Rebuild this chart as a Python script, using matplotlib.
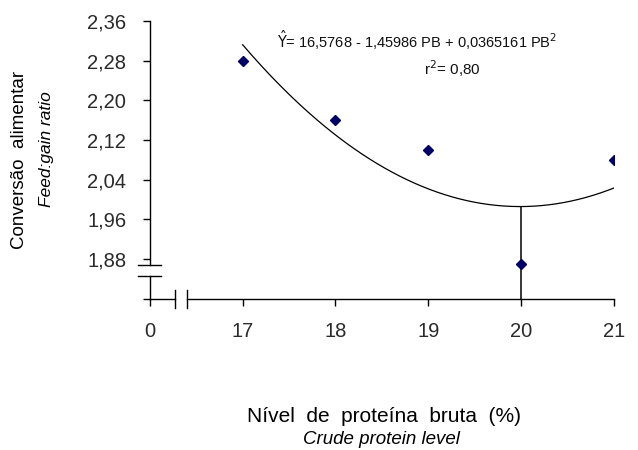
import matplotlib
matplotlib.use("Agg")
import matplotlib.pyplot as plt
import numpy as np

plt.rcParams['font.family'] = ['Liberation Sans', 'DejaVu Sans']

# data
protein_levels = [17, 18, 19, 20, 21]
feed_gain = [2.28, 2.16, 2.10, 1.87, 2.08]
x_tick_labels = ['0', '17', '18', '19', '20', '21']
y_ticks = [1.88, 1.96, 2.04, 2.12, 2.20, 2.28, 2.36]
coef_a, coef_b, coef_c = 16.5768, -1.45986, 0.0365161
optimum_x = 20

fig = plt.figure(figsize=(6.38, 4.5), dpi=100)
ax = fig.add_axes([0.235, 0.336, 0.727, 0.617])
x0 = 16  # position of the "0" tick (broken axis)
ymin, ymax = 1.80, 2.36
ax.set_xlim(x0, 21)
ax.set_ylim(ymin, ymax)
for s in ax.spines.values():
    s.set_visible(False)

lw = 1.0
kw = dict(color='black', lw=lw, clip_on=False)
# y axis with break
ax.plot([x0, x0], [ymin, 1.846], **kw)
ax.plot([x0, x0], [1.868, ymax], **kw)
hw = 0.124
for yb in (1.846, 1.868):
    ax.plot([x0 - hw, x0 + hw], [yb, yb], **kw)
# x axis with break
ax.plot([x0, 16.27], [ymin, ymin], **kw)
ax.plot([16.40, 21], [ymin, ymin], **kw)
hh = 0.018
for xb in (16.27, 16.40):
    ax.plot([xb, xb], [ymin - hh, ymin + hh], **kw)

ax.set_xticks([x0] + protein_levels)
ax.set_xticklabels(x_tick_labels)
ax.set_yticks([ymin] + y_ticks)
ax.set_yticklabels([''] + [f'{v:.2f}'.replace('.', ',') for v in y_ticks])
ax.tick_params(direction='out', length=5, width=lw, labelsize=14.5,
               labelcolor='#2a2a2a')
ax.tick_params(axis='y', pad=12)
ax.tick_params(axis='x', pad=12)

# regression curve
xc = np.linspace(protein_levels[0], protein_levels[-1], 200)
yc = coef_a + coef_b * xc + coef_c * xc ** 2
ax.plot(xc, yc, color='black', lw=0.9)
yopt = coef_a + coef_b * optimum_x + coef_c * optimum_x ** 2
ax.plot([optimum_x, optimum_x], [ymin, yopt], color='black', lw=1.1)

ax.plot(protein_levels, feed_gain, linestyle='none', marker='D',
        markersize=5, color='#000066')

fig.text(417 / 638, 1 - 40 / 450,
         r'$\hat{\mathrm{Y}}$= 16,5768 - 1,45986 PB + 0,0365161 PB$^2$',
         ha='center', va='center', fontsize=10.5, color='#111111')
fig.text(452 / 638, 1 - 69 / 450, r'r$^2$= 0,80', ha='center', va='center',
         fontsize=11, color='#111111')

fig.text(20 / 638, 1 - 160 / 450, 'Conversão  alimentar', rotation=90,
         ha='center', va='center', fontsize=13.5)
fig.text(46 / 638, 1 - 149 / 450, 'Feed:gain ratio', rotation=90,
         ha='center', va='center', fontsize=12.5, style='italic')
fig.text(384 / 638, 1 - 416 / 450, 'Nível  de  proteína  bruta  (%)',
         ha='center', va='center', fontsize=15)
fig.text(381 / 638, 1 - 440 / 450, 'Crude protein level',
         ha='center', va='center', fontsize=13.5, style='italic')

fig.savefig('out.png', dpi=100)
